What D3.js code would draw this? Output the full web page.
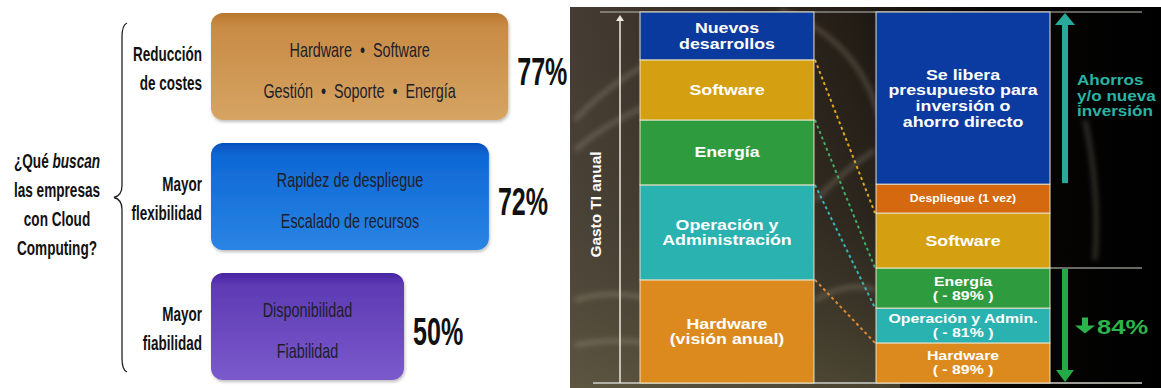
<!DOCTYPE html>
<html>
<head>
<meta charset="utf-8">
<script src="https://cdn.jsdelivr.net/npm/d3@7"></script>
<style>
  html, body { margin: 0; padding: 0; background: #fff; overflow: hidden; }
  svg { display: block; }
</style>
</head>
<body>
<svg id="chart" width="1161" height="388"></svg>
<script>
// ---- Left panel: what companies look for in Cloud Computing ----
const questionLines = ["¿Qué buscan", "las empresas", "con Cloud", "Computing?"];
const questionItalic = "buscan";
const motives = ["Reducción de costes", "Mayor flexibilidad", "Mayor fiabilidad"];
const motiveLines = [["Reducción", "de costes"], ["Mayor", "flexibilidad"], ["Mayor", "fiabilidad"]];
const motiveShare = [77, 72, 50];
const motiveItems = [
  ["Hardware  •  Software", "Gestión  •  Soporte  •  Energía"],
  ["Rapidez de despliegue", "Escalado de recursos"],
  ["Disponibilidad", "Fiabilidad"]
];

// ---- Right panel: annual IT spend, traditional vs cloud (share of total) ----
const stackGroups = ["actual", "cloud"];
const actualKeys = ["hardware", "operacion", "energia", "software", "nuevos"];
const actualShare = [27.8, 25.6, 17.5, 16.2, 12.9];
const actualLabels = [["Hardware", "(visión anual)"], ["Operación y", "Administración"], ["Energía"], ["Software"], ["Nuevos", "desarrollos"]];
const cloudKeys = ["hardware", "operacion", "energia", "software", "despliegue", "libera"];
const cloudShare = [10.8, 9.4, 10.8, 14.8, 7.8, 46.4];
const cloudLabels = [["Hardware", "( - 89% )"], ["Operación y Admin.", "( - 81% )"], ["Energía", "( - 89% )"], ["Software"], ["Despliegue (1 vez)"], ["Se libera", "presupuesto para", "inversión o", "ahorro directo"]];
const savingsLabel = ["Ahorros", "y/o nueva", "inversión"];
const reductionLabel = "84%";
const axisLabel = "Gasto TI anual";

const segColor = {
  hardware: "#dc8a1e", operacion: "#29b2b0", energia: "#2f9b3f", software: "#d49f10",
  nuevos: "#0b3a9e", libera: "#0b3aa0", despliegue: "#d4690f"
};
const linkColor = { software: "#dca624", energia: "#3fae62", operacion: "#33b6b8", hardware: "#d9893a" };

const svg = d3.select("#chart");
const defs = svg.append("defs");
const FONT = "Liberation Sans, Arial, sans-serif";

// ================= LEFT PANEL =================
const left = svg.append("g");
const xShare = d3.scaleLinear().domain([0, 100]).range([211, 597]);
const yRow = d3.scaleBand().domain(motives).range([13, 380]).paddingInner(0.177);

const boxGrad = [
  ["#b8772e", "#c88b45", "#d6a463"],
  ["#0550bd", "#0d68d4", "#2a84e4"],
  ["#4a25a2", "#5e3bb4", "#7a5acb"]
];
boxGrad.forEach((c, i) => {
  const g = defs.append("linearGradient").attr("id", "box" + i).attr("x1", 0).attr("x2", 0).attr("y1", 0).attr("y2", 1);
  g.append("stop").attr("offset", "0%").attr("stop-color", c[0]);
  g.append("stop").attr("offset", "12%").attr("stop-color", c[1]);
  g.append("stop").attr("offset", "100%").attr("stop-color", c[2]);
});
defs.append("filter").attr("id", "boxShadow").attr("x", "-5%").attr("y", "-10%").attr("width", "110%").attr("height", "125%")
  .append("feDropShadow").attr("dx", 1).attr("dy", 2).attr("stdDeviation", 1.5).attr("flood-color", "#000").attr("flood-opacity", 0.25);

// condensed text: glyphs narrowed horizontally around their anchor point
function squeeze(sel, x, y, sx) {
  return sel.attr("transform", `translate(${x},${y}) scale(${sx},1)`);
}

const rows = left.selectAll("g.row").data(motives).join("g").attr("class", "row");
rows.append("rect")
  .attr("x", xShare(0))
  .attr("y", d => yRow(d))
  .attr("width", (d, i) => xShare(motiveShare[i]) - xShare(0))
  .attr("height", yRow.bandwidth())
  .attr("rx", 12)
  .attr("fill", (d, i) => `url(#box${i})`)
  .attr("filter", "url(#boxShadow)");

rows.each(function(d, i) {
  const g = d3.select(this);
  const cy = yRow(d) + yRow.bandwidth() / 2;
  const cx = (xShare(0) + xShare(motiveShare[i])) / 2;
  motiveItems[i].forEach((t, j) => {
    squeeze(g.append("text"), cx, cy + 4 + (j - 0.5) * 41, 0.72)
      .attr("text-anchor", "middle").attr("dy", "0.35em")
      .attr("font-family", FONT).attr("font-size", 20)
      .attr("fill", "#1e1e2a").attr("xml:space", "preserve").text(t);
  });
  motiveLines[i].forEach((t, j) => {
    squeeze(g.append("text"), 202, cy + 2 + (j - 0.5) * 28.5, 0.675)
      .attr("text-anchor", "end").attr("dy", "0.35em")
      .attr("font-family", FONT).attr("font-size", 20).attr("font-weight", "bold")
      .attr("fill", "#111").text(t);
  });
  squeeze(g.append("text"), xShare(motiveShare[i]) + 9, cy + 5, 0.66)
    .attr("text-anchor", "start").attr("dy", "0.36em")
    .attr("font-family", FONT).attr("font-size", 38).attr("font-weight", "bold")
    .attr("fill", "#111").text(motiveShare[i] + "%");
});

// curly brace grouping the three motives
const bTop = yRow(motives[0]) + 10, bBot = yRow(motives[2]) + yRow.bandwidth() - 8;
const bMid = (bTop + bBot) / 2, bx = 122;
left.append("path")
  .attr("d", `M${bx + 5},${bTop} Q${bx},${bTop + 2} ${bx},${bTop + 14} L${bx},${bMid - 12} Q${bx},${bMid - 2} ${bx - 8},${bMid}
              Q${bx},${bMid + 2} ${bx},${bMid + 12} L${bx},${bBot - 14} Q${bx},${bBot - 2} ${bx + 5},${bBot}`)
  .attr("fill", "none").attr("stroke", "#222").attr("stroke-width", 1.3);

// question text
questionLines.forEach((line, i) => {
  const t = squeeze(left.append("text"), 57, bMid + 7 + (i - 1.5) * 29.3, 0.68)
    .attr("text-anchor", "middle").attr("dy", "0.35em")
    .attr("font-family", FONT).attr("font-size", 20).attr("font-weight", "bold")
    .attr("fill", "#111");
  const idx = line.indexOf(questionItalic);
  if (idx >= 0) {
    t.append("tspan").text(line.slice(0, idx));
    t.append("tspan").attr("font-style", "italic").text(questionItalic);
    t.append("tspan").text(line.slice(idx + questionItalic.length));
  } else {
    t.text(line);
  }
});

// ================= RIGHT PANEL =================
const right = svg.append("g");
const panelX = 570, panelY = 7, panelW = 1161 - 570, panelH = 388 - 7;

const bg = defs.append("linearGradient").attr("id", "bgGrad").attr("x1", 0).attr("x2", 1).attr("y1", 0).attr("y2", 0);
[["0%", "#453d33"], ["22%", "#362e25"], ["48%", "#221c15"], ["70%", "#080605"], ["100%", "#000"]]
  .forEach(s => bg.append("stop").attr("offset", s[0]).attr("stop-color", s[1]));
const haze = defs.append("linearGradient").attr("id", "haze").attr("x1", 0).attr("x2", 0).attr("y1", 0).attr("y2", 1);
[["0%", "rgba(80,75,60,0)"], ["55%", "rgba(95,92,72,0.18)"], ["100%", "rgba(115,110,78,0.5)"]]
  .forEach(s => haze.append("stop").attr("offset", s[0]).attr("stop-color", s[1]));
const blur = defs.append("filter").attr("id", "soft").attr("x", "-20%").attr("y", "-20%").attr("width", "140%").attr("height", "140%");
blur.append("feGaussianBlur").attr("stdDeviation", 2.5);

right.append("rect").attr("x", panelX).attr("y", panelY).attr("width", panelW).attr("height", panelH).attr("fill", "url(#bgGrad)");
right.append("rect").attr("x", panelX).attr("y", panelY).attr("width", 330).attr("height", panelH).attr("fill", "url(#haze)");
// faint light streaks of the backdrop photo
const streaks = [
  "M575,120 Q620,70 700,40", "M575,150 Q610,120 660,100", "M575,300 Q640,280 720,330", "M575,345 Q650,330 760,372",
  "M815,200 Q845,170 875,150", "M815,300 Q850,280 875,290", "M780,10 Q860,40 880,120",
  "M1085,120 Q1100,190 1095,260"
];
right.append("g").attr("filter", "url(#soft)").selectAll("path").data(streaks).join("path")
  .attr("d", d => d).attr("fill", "none").attr("stroke", "rgba(210,200,175,0.22)").attr("stroke-width", 5);

const ySpend = d3.scaleLinear().domain([0, 100]).range([383, 12]);
const xGroup = d3.scaleBand().domain(stackGroups).range([640, 1050]).paddingInner(0.263);

function buildStack(keys, shares, labels) {
  const ends = d3.cumsum(shares);
  return keys.map((k, i) => ({ key: k, y0: ends[i] - shares[i], y1: ends[i], label: labels[i] }));
}
const stacks = {
  actual: buildStack(actualKeys, actualShare, actualLabels),
  cloud: buildStack(cloudKeys, cloudShare, cloudLabels)
};

// frame lines
const lineCol = "#cfcfc8";
right.append("line").attr("x1", 600).attr("x2", 1142).attr("y1", ySpend(100)).attr("y2", ySpend(100)).attr("stroke", "#bdbdb8").attr("stroke-width", 1.2);
right.append("line").attr("x1", 593).attr("x2", 1142).attr("y1", ySpend(0)).attr("y2", ySpend(0)).attr("stroke", lineCol).attr("stroke-width", 1.5);

// value axis arrow
right.append("line").attr("x1", 620).attr("x2", 620).attr("y1", ySpend(0)).attr("y2", ySpend(100) + 6).attr("stroke", "#ece9e0").attr("stroke-width", 1.5);
right.append("path").attr("d", `M616,${ySpend(100) + 9} L620,${ySpend(100) + 3} L624,${ySpend(100) + 9} Z`).attr("fill", "#ece9e0");
right.append("text")
  .attr("transform", `translate(596,${(ySpend(0) + ySpend(100)) / 2 + 7}) rotate(-90) scale(1.1,1)`)
  .attr("text-anchor", "middle").attr("dy", "0.35em")
  .attr("font-family", FONT).attr("font-size", 14).attr("font-weight", "bold")
  .attr("fill", "#fff").text(axisLabel);

// dashed links between matching segments
const cloudByKey = new Map(stacks.cloud.map(d => [d.key, d]));
const links = stacks.actual.filter(d => cloudByKey.has(d.key));
right.append("g").selectAll("line").data(links).join("line")
  .attr("x1", xGroup("actual") + xGroup.bandwidth() + 1)
  .attr("y1", d => ySpend(d.y1))
  .attr("x2", xGroup("cloud") - 1)
  .attr("y2", d => ySpend(cloudByKey.get(d.key).y1))
  .attr("stroke", d => linkColor[d.key]).attr("stroke-width", 2).attr("stroke-dasharray", "3,3");

// stacked bars
stackGroups.forEach(gname => {
  const g = right.append("g");
  const segs = stacks[gname];
  g.selectAll("rect").data(segs).join("rect")
    .attr("x", xGroup(gname))
    .attr("width", xGroup.bandwidth())
    .attr("y", d => ySpend(d.y1))
    .attr("height", d => ySpend(d.y0) - ySpend(d.y1))
    .attr("fill", d => segColor[d.key])
    .attr("stroke", "#e9e2c8").attr("stroke-width", 1);
  segs.forEach(d => {
    const cx = xGroup(gname) + xGroup.bandwidth() / 2;
    const cy = (ySpend(d.y0) + ySpend(d.y1)) / 2;
    const small = d.key === "despliegue";
    const fs = small ? 10 : (gname === "cloud" && d.label.length === 2 ? 12.5 : 14);
    const lh = fs * 1.12;
    d.label.forEach((t, j) => {
      g.append("text")
        .attr("transform", `translate(${cx},${cy + (j - (d.label.length - 1) / 2) * lh}) scale(${small ? 1.22 : 1.27},1)`)
        .attr("text-anchor", "middle").attr("dy", "0.36em")
        .attr("font-family", FONT).attr("font-size", fs).attr("font-weight", "bold")
        .attr("fill", "#fff").text(t);
    });
  });
});

// savings / reduction markers on the cloud side
const cloudTopOfDeploy = cloudByKey.get("despliegue").y1;
const cloudRunTop = cloudByKey.get("energia").y1;
const ax = 1065;
right.append("line").attr("x1", xGroup("cloud") + xGroup.bandwidth()).attr("x2", 1142)
  .attr("y1", ySpend(cloudRunTop)).attr("y2", ySpend(cloudRunTop)).attr("stroke", lineCol).attr("stroke-width", 1.2);

right.append("rect").attr("x", ax - 3).attr("width", 6).attr("y", ySpend(100) + 12)
  .attr("height", ySpend(cloudTopOfDeploy) - 1 - (ySpend(100) + 12)).attr("fill", "#27a99b");
right.append("path").attr("d", `M${ax - 10},${ySpend(100) + 13} L${ax},${ySpend(100) + 1} L${ax + 10},${ySpend(100) + 13} Z`).attr("fill", "#27a99b");

right.append("rect").attr("x", ax - 3).attr("width", 6).attr("y", ySpend(cloudRunTop) + 1)
  .attr("height", ySpend(0) - 12 - (ySpend(cloudRunTop) + 1)).attr("fill", "#23aa46");
right.append("path").attr("d", `M${ax - 9},${ySpend(0) - 13} L${ax + 9},${ySpend(0) - 13} L${ax},${ySpend(0) - 1} Z`).attr("fill", "#23aa46");

savingsLabel.forEach((t, i) => {
  right.append("text")
    .attr("transform", `translate(1077,${80 + i * 15.5}) scale(1.22,1)`)
    .attr("dy", "0.36em")
    .attr("font-family", FONT).attr("font-size", 14).attr("font-weight", "bold")
    .attr("fill", "#2ab3a3").text(t);
});

const redY = (ySpend(cloudRunTop) + ySpend(0)) / 2 + 1;
right.append("path")
  .attr("d", `M1082,${redY - 9} L1088,${redY - 9} L1088,${redY - 1} L1095,${redY - 1} L1085,${redY + 7} L1075,${redY - 1} L1082,${redY - 1} Z`)
  .attr("fill", "#2db34a");
right.append("text")
  .attr("transform", `translate(1097,${redY}) scale(1.28,1)`)
  .attr("dy", "0.36em")
  .attr("font-family", FONT).attr("font-size", 20).attr("font-weight", "bold")
  .attr("fill", "#2db34a").text(reductionLabel);
</script>
</body>
</html>
